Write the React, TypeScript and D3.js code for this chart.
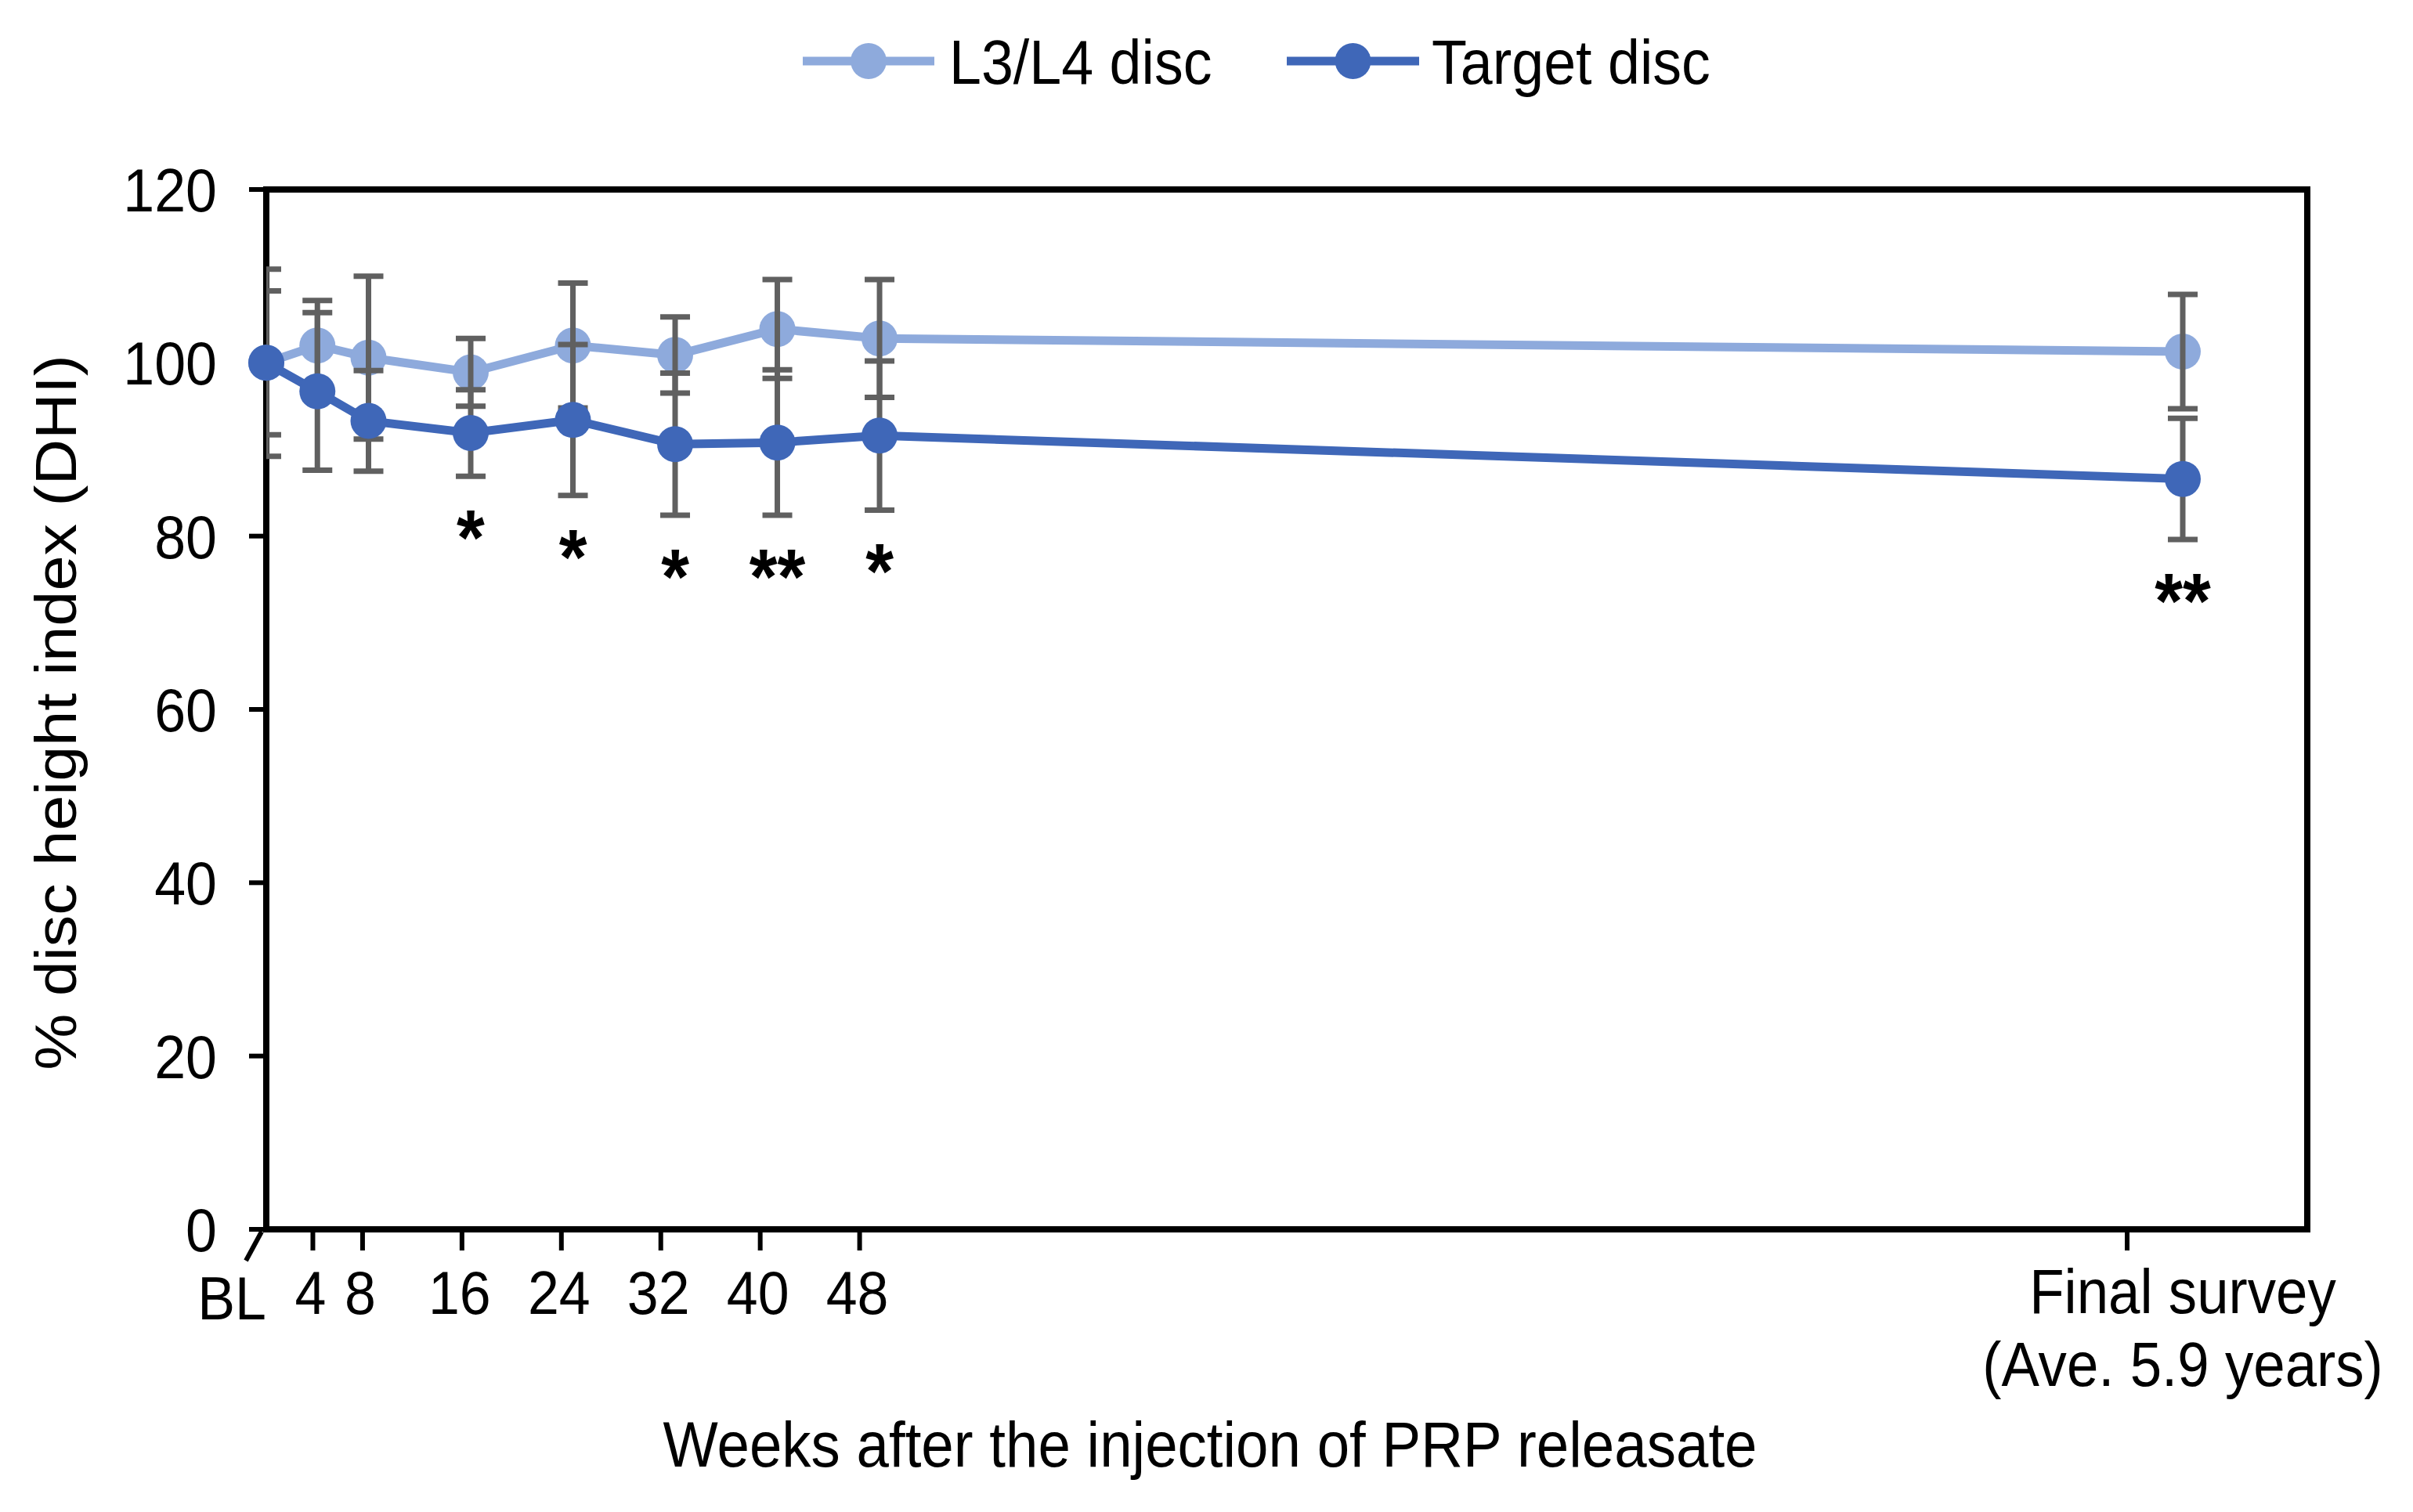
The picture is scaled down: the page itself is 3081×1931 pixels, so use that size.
import React, { useEffect, useRef } from 'react';
import * as d3 from 'd3';

// time points (Final survey is placed at 150 on the week axis)
const timeLabels = ['BL', '4', '8', '16', '24', '32', '40', '48', 'Final'];
const timeWeeks = [0, 4, 8, 16, 24, 32, 40, 48, 150];

const l34Mean = [100, 102.0, 100.6, 98.9, 102.0, 100.9, 103.9, 102.8, 101.3];
const l34Err = [8.3, 5.2, 9.4, 3.9, 7.2, 4.4, 5.7, 6.8, 6.6];
const targetMean = [100, 96.7, 93.3, 91.9, 93.4, 90.6, 90.8, 91.6, 86.6];
const targetErr = [10.8, 9.1, 5.8, 5.0, 8.7, 8.2, 8.4, 8.6, 7.0];
const sigMarks = ['', '', '', '*', '*', '*', '**', '*', '**'];

const yTicks = [0, 20, 40, 60, 80, 100, 120];
const finalLabel = ['Final survey', '(Ave. 5.9 years)'];

const seriesNames = ['L3/L4 disc', 'Target disc'];
const LIGHT = '#8eaadc';
const DARK = '#3f67b8';
const ERR = '#606060';
const FONT = '"Liberation Sans", Arial, sans-serif';
const SX = 0.92; // text in the picture is a little narrow

const App: React.FC = () => {
    const svgRef = useRef<SVGSVGElement>(null);

    useEffect(() => {
        if (!svgRef.current) return;
        const width = 3081;
        const height = 1931;
        const svg = d3.select(svgRef.current);
        svg.selectAll('*').remove();
        svg.attr('width', width).attr('height', height).style('font-family', FONT);

        svg.append('rect').attr('width', width).attr('height', height).attr('fill', '#fff');

        const left = 340, right = 2946, top = 242, bottom = 1570;

        const y = d3.scaleLinear().domain([0, 120]).range([bottom, top]);
        // points and axis ticks are not quite aligned in the original
        const xPt = d3.scaleLinear().domain([0, 150]).range([left, 2787]);
        const xTick = d3.scaleLinear().domain([0, 150]).range([336, 2716]);

        const rows = timeLabels.map((t, i) => ({
            t, w: timeWeeks[i],
            l: l34Mean[i], le: l34Err[i],
            g: targetMean[i], ge: targetErr[i],
            sig: sigMarks[i]
        }));

        const txt = (g: any, x: number, yy: number, s: string, size: number, anchor = 'middle') =>
            g.append('text')
                .attr('transform', `translate(${x},${yy}) scale(${SX},1)`)
                .attr('text-anchor', anchor)
                .attr('font-size', size)
                .attr('fill', '#000')
                .text(s);

        // frame
        svg.append('rect')
            .attr('x', left).attr('y', top)
            .attr('width', right - left).attr('height', bottom - top)
            .attr('fill', 'none').attr('stroke', '#000').attr('stroke-width', 8);

        // y ticks + labels
        yTicks.forEach(v => {
            svg.append('line')
                .attr('x1', left - 22).attr('x2', left)
                .attr('y1', y(v)).attr('y2', y(v))
                .attr('stroke', '#000').attr('stroke-width', 6);
            txt(svg, 277, y(v) + 28, String(v), 78, 'end');
        });

        // x ticks
        rows.slice(1).forEach(r => {
            svg.append('line')
                .attr('x1', xTick(r.w)).attr('x2', xTick(r.w))
                .attr('y1', bottom).attr('y2', bottom + 27)
                .attr('stroke', '#000').attr('stroke-width', 6);
        });
        // slanted mark at baseline
        svg.append('line')
            .attr('x1', xTick(0) - 22).attr('y1', bottom + 40)
            .attr('x2', xTick(0) - 2).attr('y2', bottom + 3)
            .attr('stroke', '#000').attr('stroke-width', 6);

        rows.slice(1, 8).forEach(r => txt(svg, xTick(r.w) - 3, 1678, r.t, 78));
        txt(svg, left, 1685, 'BL', 78, 'end');
        finalLabel.forEach((s, i) => txt(svg, xPt(150), 1677 + i * 93, s, 79));

        // axis titles
        svg.append('text')
            .attr('transform', `translate(${1545},${1873}) scale(${SX},1)`)
            .attr('text-anchor', 'middle').attr('font-size', 81)
            .text('Weeks after the injection of PRP releasate');
        svg.append('text')
            .attr('transform', `translate(${97},${910}) scale(${SX},1) rotate(-90)`)
            .attr('text-anchor', 'middle').attr('font-size', 81)
            .text('% disc height index (DHI)');

        const line = (acc: (d: any) => number) => d3.line<any>()
            .x(d => xPt(d.w)).y(d => y(acc(d)));

        // L3/L4 line + markers
        svg.append('path').datum(rows)
            .attr('d', line(d => d.l))
            .attr('fill', 'none').attr('stroke', LIGHT).attr('stroke-width', 11);
        svg.selectAll('.lm').data(rows).enter().append('circle')
            .attr('cx', d => xPt(d.w)).attr('cy', d => y(d.l)).attr('r', 23)
            .attr('fill', LIGHT);

        // error bars, clipped to plot area
        svg.append('clipPath').attr('id', 'plotclip').append('rect')
            .attr('x', left).attr('y', top).attr('width', right - left).attr('height', bottom - top);
        const eb = svg.append('g').attr('clip-path', 'url(#plotclip)');
        const bars = rows.flatMap(r => [
            { w: r.w, lo: r.l - r.le, hi: r.l + r.le },
            { w: r.w, lo: r.g - r.ge, hi: r.g + r.ge }
        ]);
        bars.forEach(b => {
            const cx = xPt(b.w);
            eb.append('line').attr('x1', cx).attr('x2', cx)
                .attr('y1', y(b.hi)).attr('y2', y(b.lo))
                .attr('stroke', ERR).attr('stroke-width', 7);
            [b.hi, b.lo].forEach(v => {
                eb.append('line').attr('x1', cx - 19).attr('x2', cx + 19)
                    .attr('y1', y(v)).attr('y2', y(v))
                    .attr('stroke', ERR).attr('stroke-width', 7);
            });
        });

        // Target line + markers
        svg.append('path').datum(rows)
            .attr('d', line(d => d.g))
            .attr('fill', 'none').attr('stroke', DARK).attr('stroke-width', 11);
        svg.selectAll('.dm').data(rows).enter().append('circle')
            .attr('cx', d => xPt(d.w)).attr('cy', d => y(d.g)).attr('r', 23)
            .attr('fill', DARK);

        // significance marks
        rows.filter(r => r.sig).forEach(r => {
            txt(svg, xPt(r.w), y(r.g - r.ge) + 55 + 0.58 * 100, r.sig, 100)
                .attr('font-weight', 'bold');
        });

        // legend
        const legend = [
            { name: seriesNames[0], color: LIGHT, x0: 1025, x1: 1193, tx: 1212 },
            { name: seriesNames[1], color: DARK, x0: 1643, x1: 1812, tx: 1828 }
        ];
        legend.forEach(l => {
            svg.append('line').attr('x1', l.x0).attr('x2', l.x1).attr('y1', 78).attr('y2', 78)
                .attr('stroke', l.color).attr('stroke-width', 11);
            svg.append('circle').attr('cx', (l.x0 + l.x1) / 2).attr('cy', 78).attr('r', 23)
                .attr('fill', l.color);
            txt(svg, l.tx, 107, l.name, 80, 'start');
        });
    }, []);

    return <svg ref={svgRef} style={{ position: 'absolute', left: 0, top: 0, display: 'block' }} />;
};

export default App;
